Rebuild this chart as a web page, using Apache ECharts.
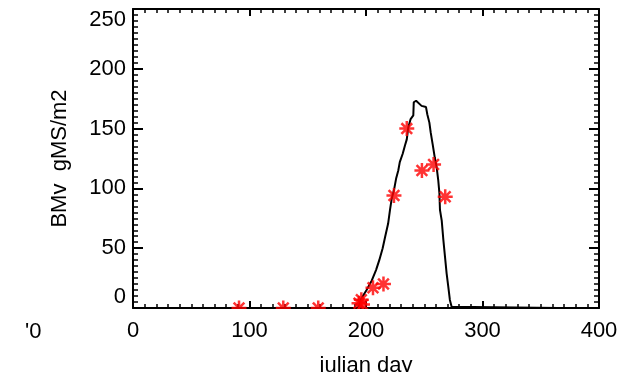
<!DOCTYPE html>
<html>
<head>
<meta charset="utf-8">
<script src="https://cdn.jsdelivr.net/npm/echarts@6/dist/echarts.min.js"></script>
<style>
html,body{margin:0;padding:0;background:#fff;}
#chart{width:635px;height:372px;}
</style>
</head>
<body>
<div id="chart"></div>
<script>
// Model curve (julian day, biomass)
var curveDays = [0,193,194,196,200.5,205,208.6,211.4,214.3,216.3,219,220.6,222,224.3,225.8,227.7,229,231.5,233.5,235,236.3,238.3,240.6,241,243,244.5,247.7,251.5,252.6,254.4,255.5,257.2,259,260.6,262,263,263.5,265,266.4,267.8,269.2,270.6,272,273.5,275,365];
var curveVals = [0,0,2.5,8,15,23,31.7,40,50,59,70.6,82,91,100,108,115,122,129,136,141,151,158,161,172,173.3,172,169,168,162,155,147,137,126,118,107,96,82,73,57,43,29,18,6.7,1,0,0];
// Observations
var obsDays = [91,129,159,194,196,197,206,215,224,235,248,258,268];
var obsVals = [0,0,0,4,7,3,17,20,94,150,115,120,93];
// Axis ticks
var xTicks = [0,100,200,300,400];
var yTicks = [0,50,100,150,200,250];

var curveData = curveDays.map(function(d,i){return [d,curveVals[i]];});
var obsData = obsDays.map(function(d,i){return [d,obsVals[i]];});

var FONT = 'Liberation Sans';
var FS = 22;
var chart = echarts.init(document.getElementById('chart'), null, {renderer:'canvas'});
var axisLine = {show:true, onZero:false, lineStyle:{color:'#000', width:2}};
function xAx(pos, labels){
  return {
    type:'value', position:pos, min:xTicks[0], max:xTicks[xTicks.length-1], interval:100,
    axisLine:axisLine,
    axisTick:{show:true, inside:true, length:7, lineStyle:{color:'#000', width:2}},
    minorTick:{show:true, splitNumber:10, length:4, lineStyle:{color:'#000', width:1.5}},
    splitLine:{show:false},
    axisLabel:{show:labels, color:'#000', fontFamily:FONT, fontSize:FS, margin:12},
    name: labels ? 'julian day' : '',
    nameLocation:'middle', nameGap:47,
    nameTextStyle:{color:'#000', fontFamily:FONT, fontSize:FS}
  };
}
function yAx(pos, labels){
  return {
    type:'value', position:pos, min:yTicks[0], max:yTicks[yTicks.length-1], interval:50,
    axisLine:axisLine,
    axisTick:{show:true, inside:true, length:10, lineStyle:{color:'#000', width:2}},
    minorTick:{show:true, splitNumber:10, length:5, lineStyle:{color:'#000', width:1.5}},
    splitLine:{show:false},
    axisLabel:{show:labels, color:'#000', fontFamily:FONT, fontSize:FS, margin:7,
               verticalAlignMinLabel:'bottom', verticalAlignMaxLabel:'top'},
    name: labels ? 'BMv  gMS/m2' : '',
    nameLocation:'middle', nameGap:62,
    nameTextStyle:{color:'#000', fontFamily:FONT, fontSize:FS}
  };
}
var star = 'path://M0,-7L0,7M-7,0L7,0M-5,-5L5,5M-5,5L5,-5';
chart.setOption({
  animation:false,
  backgroundColor:'#fff',
  grid:{left:133, right:36, top:9, bottom:64, containLabel:false, outerBoundsMode:'none'},
  xAxis:[xAx('bottom', true), xAx('top', false)],
  yAxis:[yAx('left', true), yAx('right', false)],
  series:[
    {type:'line', data:curveData, showSymbol:false, clip:true,
     lineStyle:{color:'#000', width:2}, z:3},
    {type:'scatter', data:obsData, symbol:star, symbolSize:15, clip:true,
     itemStyle:{color:'#ff0000', borderColor:'#ff0000', borderWidth:2.5}, z:4}
  ],
  graphic:[
    {type:'rect', left:120, top:309, shape:{width:490, height:9}, style:{fill:'#fff'}, z:100},
    {type:'text', left:25, top:321, style:{text:"'0", fill:'#000', font:FS + 'px "Liberation Sans"'}, z:100}
  ]
});
</script>
</body>
</html>
